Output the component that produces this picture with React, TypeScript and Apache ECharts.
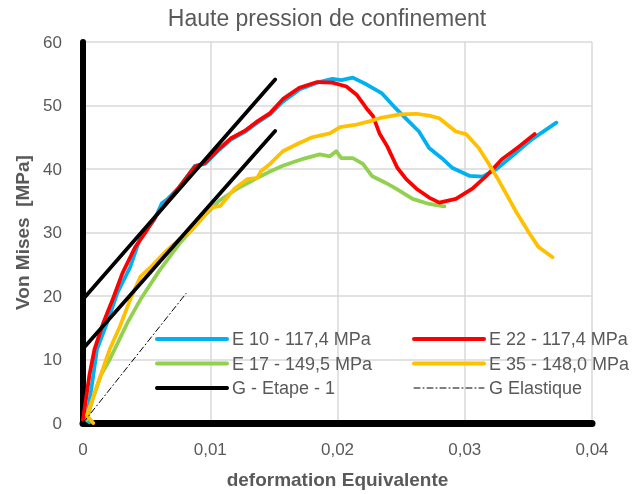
import React, { useEffect, useRef } from "react";
import * as echarts from "echarts";

const titleText = "Haute pression de confinement";
const xAxisName = "deformation Equivalente";
const yAxisName = "Von Mises  [MPa]";

const e10: number[][] = [
  [0.0005, 0.1], [0.0002, 0.6], [0.0004, 2], [0.0007, 6], [0.0011, 11.6], [0.0019, 15.8],
  [0.0027, 20.5], [0.0037, 24.5], [0.0045, 29.2], [0.0056, 32], [0.0062, 34.6], [0.0066, 35.2],
  [0.0075, 37], [0.0088, 40.5], [0.0096, 40.8], [0.0106, 42.8], [0.0116, 44.6], [0.0127, 45.8],
  [0.0137, 47.3], [0.0147, 48.6], [0.0157, 50.6], [0.017, 52.5], [0.0184, 53.6], [0.0196, 54.2],
  [0.0203, 54], [0.0212, 54.4], [0.0223, 53.3], [0.0235, 51.9], [0.0246, 49.5], [0.0256, 47.5],
  [0.0264, 45.9], [0.0272, 43.3], [0.0282, 41.7], [0.029, 40.2], [0.0304, 38.9], [0.0314, 38.8],
  [0.0325, 40], [0.0337, 42], [0.0353, 44.7], [0.0372, 47.3],
];

const e22: number[][] = [
  [0, 0.5], [0.0002, 3.3], [0.0005, 7.5], [0.0009, 11.6], [0.0016, 15.8], [0.0024, 19.8],
  [0.0031, 23.6], [0.0041, 27.7], [0.005, 30.3], [0.0057, 32.5], [0.0065, 34.5], [0.0075, 37],
  [0.0088, 40.4], [0.0096, 41], [0.0106, 43], [0.0116, 44.8], [0.0127, 46], [0.0137, 47.5],
  [0.0147, 48.8], [0.0157, 51], [0.017, 52.8], [0.0184, 53.7], [0.0196, 53.6], [0.0207, 53],
  [0.0215, 51.7], [0.0223, 49.5], [0.0228, 48.3], [0.0233, 45.6], [0.0239, 43.6], [0.0247, 40.2],
  [0.0254, 38.4], [0.0262, 36.9], [0.0272, 35.5], [0.028, 34.7], [0.0293, 35.3], [0.0306, 36.9],
  [0.0317, 38.9], [0.0329, 41.5], [0.0343, 43.6], [0.0355, 45.5],
];

const e17: number[][] = [
  [0.0003, 0.5], [0.0008, 4], [0.0014, 7.5], [0.0021, 10], [0.0035, 15.8], [0.0045, 19.4],
  [0.006, 24], [0.0076, 28.3], [0.0092, 31.9], [0.0107, 35], [0.0122, 37], [0.0137, 38.6],
  [0.0147, 39.6], [0.0157, 40.5], [0.0173, 41.6], [0.0186, 42.3], [0.0194, 42], [0.0199, 42.8],
  [0.0203, 41.7], [0.0212, 41.7], [0.022, 40.8], [0.0227, 38.9], [0.0238, 37.8], [0.0246, 36.9],
  [0.0259, 35.3], [0.0272, 34.5], [0.0284, 34.1],
];

const e35: number[][] = [
  [0.0008, 0], [0.0003, 1.2], [0.0007, 3.5], [0.0013, 7], [0.0021, 11.6], [0.0029, 15.2],
  [0.0037, 19.4], [0.0045, 23], [0.0053, 24.5], [0.0066, 27.2], [0.0075, 28.8], [0.0085, 30.3],
  [0.009, 31.4], [0.01, 33.9], [0.0108, 34.2], [0.0119, 36.9], [0.0129, 38.4], [0.0137, 38.6],
  [0.014, 39.7], [0.0147, 40.8], [0.0157, 42.8], [0.0168, 43.9], [0.018, 45], [0.0194, 45.6],
  [0.0202, 46.6], [0.0215, 47], [0.0225, 47.5], [0.0235, 48.1], [0.0249, 48.6], [0.0262, 48.7],
  [0.0272, 48.4], [0.028, 48], [0.0293, 45.9], [0.0301, 45.5], [0.0311, 43.3], [0.0319, 40.8],
  [0.0327, 38.1], [0.034, 33.4], [0.0351, 29.8], [0.0358, 27.7], [0.0369, 26.1],
];

const gEtapeUpper: number[][] = [[0, 19.5], [0.0151, 54.1]];
const gEtapeLower: number[][] = [[0, 11.7], [0.0151, 46]];
const gElastique: number[][] = [[0, 0], [0.0081, 20.4]];

const names = {
  e10: "E 10 - 117,4 MPa",
  e22: "E 22 - 117,4 MPa",
  e17: "E 17 - 149,5 MPa",
  e35: "E 35 - 148,0 MPa",
  gEtape: "G - Etape - 1",
  gEl: "G Elastique",
};

const xTicks = { min: 0, max: 0.04, interval: 0.01 };
const yTicks = { min: 0, max: 60, interval: 10 };

const FONT = "Liberation Sans";
const GREY = "#595959";
const DASH_DOT = [6, 3, 1, 3];

export default function App() {
  const ref = useRef<HTMLDivElement>(null);
  useEffect(() => {
    if (!ref.current) return;
    const chart = echarts.init(ref.current, undefined, { renderer: "svg" });
    const line = (name: string, data: number[][], color: string, width = 3.75, type: any = "solid") => ({
      type: "line",
      name,
      data,
      symbol: "none",
      smooth: false,
      lineStyle: { color, width, type, cap: "round", join: "round" },
      itemStyle: { color },
    });
    const legendBase = {
      orient: "vertical",
      top: 330,
      padding: 0,
      itemWidth: 70,
      itemHeight: 14,
      itemGap: 6.5,
      itemStyle: { opacity: 0, borderWidth: 0 },
      lineStyle: { width: 4 },
      textStyle: { fontFamily: FONT, fontSize: 18, color: GREY },
    };
    chart.setOption({
      animation: false,
      textStyle: { fontFamily: FONT },
      title: {
        text: titleText,
        left: 327,
        textAlign: "center",
        top: 6,
        padding: 0,
        textStyle: { fontFamily: FONT, fontSize: 23, fontWeight: "normal", color: GREY },
      },
      grid: { left: 83, right: 52, top: 42, bottom: 69, containLabel: false },
      legend: [
        { ...legendBase, data: [names.e10, names.e17, names.gEtape], left: 155 },
        {
          ...legendBase,
          data: [
            names.e22,
            names.e35,
            { name: names.gEl, lineStyle: { width: 1, type: DASH_DOT } },
          ],
          left: 412,
        },
      ],
      xAxis: {
        type: "value",
        ...xTicks,
        name: xAxisName,
        nameLocation: "middle",
        nameGap: 47,
        nameTextStyle: { fontFamily: FONT, fontSize: 19, fontWeight: "bold", color: GREY },
        axisLine: { show: true, onZero: false, lineStyle: { color: "#000", width: 7 } },
        axisTick: { show: false },
        axisLabel: {
          color: GREY,
          fontSize: 17,
          margin: 18,
          fontFamily: FONT,
          formatter: (v: number) => (v === 0 ? "0" : v.toFixed(2).replace(".", ",")),
        },
        splitLine: { show: true, lineStyle: { color: "#D9D9D9", width: 1.5 } },
      },
      yAxis: {
        type: "value",
        ...yTicks,
        name: yAxisName,
        nameLocation: "middle",
        nameGap: 51,
        nameTextStyle: { fontFamily: FONT, fontSize: 19, fontWeight: "bold", color: GREY },
        axisLine: { show: true, onZero: false, lineStyle: { color: "#000", width: 6 } },
        axisTick: { show: false },
        axisLabel: { color: GREY, fontSize: 17, margin: 21, fontFamily: FONT },
        splitLine: { show: true, lineStyle: { color: "#D9D9D9", width: 1.5 } },
      },
      series: [
        line(names.e10, e10, "#00B0F0"),
        line(names.e17, e17, "#92D050"),
        line(names.e22, e22, "#FF0000"),
        line(names.e35, e35, "#FFC000"),
        line(names.gEtape, gEtapeUpper, "#000000"),
        line(names.gEtape, gEtapeLower, "#000000"),
        line(names.gEl, gElastique, "#000000", 1, DASH_DOT),
      ],
    });
    return () => chart.dispose();
  }, []);
  return <div ref={ref} style={{ position: "fixed", left: 0, top: 0, width: 644, height: 494 }} />;
}
